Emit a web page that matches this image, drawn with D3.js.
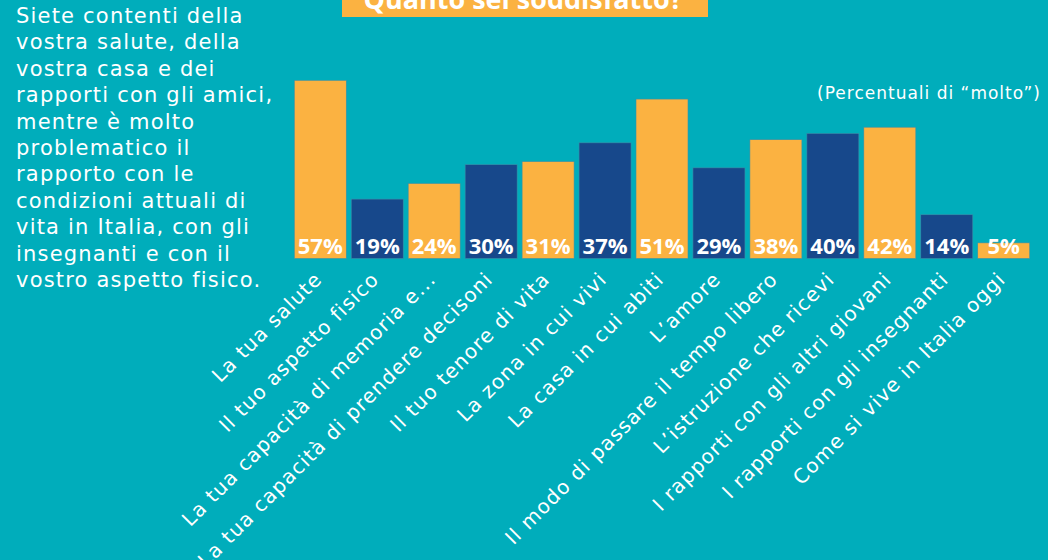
<!DOCTYPE html>
<html>
<head>
<meta charset="utf-8">
<script src="https://cdn.jsdelivr.net/npm/d3@7"></script>
<style>
    body { margin: 0; background: #00adbb; }
    svg { display: block; }
    text { font-family: "DejaVu Sans", sans-serif; fill: #fff; }
    text.bold { font-family: "Open Sans", "DejaVu Sans", sans-serif; font-weight: 700; }
</style>
</head>
<body>
<div id="chart"></div>
<script>
// Data
const categories = [
    'La tua salute',
    'Il tuo aspetto fisico',
    'La tua capacità di memoria e...',
    'La tua capacità di prendere decisoni',
    'Il tuo tenore di vita',
    'La zona in cui vivi',
    'La casa in cui abiti',
    'L’amore',
    'Il modo di passare il tempo libero',
    'L’istruzione che ricevi',
    'I rapporti con gli altri giovani',
    'I rapporti con gli insegnanti',
    'Come si vive in Italia oggi'
];
const values = [57, 19, 24, 30, 31, 37, 51, 29, 38, 40, 42, 14, 5];

const titleText = 'Quanto sei soddisfatto?';
const noteText = '(Percentuali di “molto”)';
const sideText = [
    'Siete contenti della',
    'vostra salute, della',
    'vostra casa e dei',
    'rapporti con gli amici,',
    'mentre è molto',
    'problematico il',
    'rapporto con le',
    'condizioni attuali di',
    'vita in Italia, con gli',
    'insegnanti e con il',
    'vostro aspetto fisico.'
];

const config = {
    width: 1048,
    height: 560,
    colors: ['#fbb241', '#17488b'],   // orange / dark blue, alternating
    baseline: 258.5
};

const svg = d3.select('#chart')
    .append('svg')
    .attr('width', config.width)
    .attr('height', config.height);

svg.append('rect')
    .attr('width', config.width)
    .attr('height', config.height)
    .attr('fill', '#00adbb');

// Scales
const xScale = d3.scaleBand()
    .domain(categories)
    .range([291.8, 1032.2])
    .paddingInner(0.087)
    .paddingOuter(0.0435);

// 57% bar is about 178px tall
const yScale = d3.scaleLinear()
    .domain([0, 57])
    .range([config.baseline, 80.3]);

// Title box (cut off at the top, as in the original)
svg.append('rect')
    .attr('x', 342)
    .attr('y', -30)
    .attr('width', 366)
    .attr('height', 47)
    .attr('fill', '#fbb241');

svg.append('text')
    .attr('class', 'bold')
    .attr('x', 523)
    .attr('y', 9)
    .attr('text-anchor', 'middle')
    .style('font-size', '27px')
    .text(titleText);

// Left-side commentary
svg.append('text')
    .attr('x', 16)
    .attr('y', 23)
    .style('font-size', '21px')
    .style('letter-spacing', '1.2px')
    .selectAll('tspan')
    .data(sideText)
    .enter().append('tspan')
    .attr('x', 16)
    .attr('dy', (d, i) => i === 0 ? 0 : 26.4)
    .text(d => d);

svg.append('text')
    .attr('x', 1041)
    .attr('y', 99)
    .attr('text-anchor', 'end')
    .style('font-size', '17px')
    .style('letter-spacing', '1px')
    .text(noteText);

// Bars
const g = svg.append('g');

g.selectAll('rect.bar')
    .data(values)
    .enter().append('rect')
    .attr('class', 'bar')
    .attr('x', (d, i) => xScale(categories[i]))
    .attr('y', d => yScale(d))
    .attr('width', xScale.bandwidth())
    .attr('height', d => yScale(0) - yScale(d))
    .attr('fill', (d, i) => config.colors[i % 2])
    .attr('stroke', '#3a8fa8')
    .attr('stroke-width', 0.6);

// Value labels at the bottom of each bar
g.selectAll('text.value')
    .data(values)
    .enter().append('text')
    .attr('class', 'value bold')
    .attr('x', (d, i) => xScale(categories[i]) + xScale.bandwidth() / 2)
    .attr('y', config.baseline - 5)
    .attr('text-anchor', 'middle')
    .style('font-size', '22px')
    .text(d => d + '%');

// Rotated category labels
g.selectAll('text.cat')
    .data(categories)
    .enter().append('text')
    .attr('class', 'cat')
    .attr('text-anchor', 'end')
    .attr('transform', d => {
        const x = xScale(d) + xScale.bandwidth() / 2 + 3;
        const y = config.baseline + 22;
        return `translate(${x},${y}) rotate(-45)`;
    })
    .style('font-size', '20px')
    .style('letter-spacing', '1.2px')
    .text(d => d);
</script>
</body>
</html>
